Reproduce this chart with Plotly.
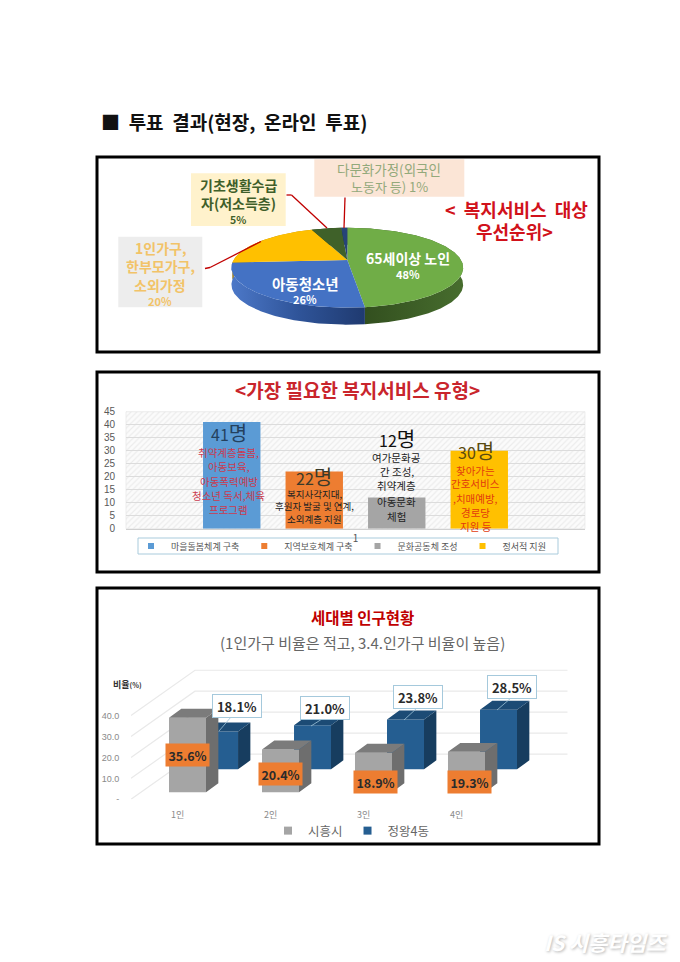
import numpy as np
import plotly.graph_objects as go

FONT = "Noto Sans CJK KR"
W, H = 680, 962

# ---------- data ----------
target_labels = ["65세이상 노인", "아동청소년", "1인가구, 한부모가구, 소외가정", "기초생활수급자(저소득층)", "다문화가정(외국인 노동자 등)"]
target_share = [48, 26, 20, 5, 1]

service_names = ["마을돌봄체계 구축", "지역보호체계 구축", "문화공동체 조성", "정서적 지원"]
service_votes = [41, 22, 12, 30]
service_category = ["1"]

household_sizes = ["1인", "2인", "3인", "4인"]
siheung_rate = [35.6, 20.4, 18.9, 19.3]
jeongwang_rate = [18.1, 21.0, 23.8, 28.5]
rate_ticks = [0, 10, 20, 30, 40]
rate_tick_text = ["-", "10.0", "20.0", "30.0", "40.0"]

# ---------- style ----------
PIE_TOP = ["#70ad47", "#4472c4", "#ffc000", "#3f6129", "#264478"]
PIE_WALL = ["#38561f", "#2c4f92", "#b88a08", "#2d451c", "#1b3157"]
SERVICE_COLORS = ["#5b9bd5", "#ed7d31", "#a5a5a5", "#ffc000"]

def px(x):
    return x / W

def py(y):
    return 1 - y / H

fig = go.Figure()
annotations, shapes = [], []

def txt(x, y, text, size=12, color="#222222", bold=False, anchor="center", **kw):
    font = dict(family=FONT, size=size, color=color)
    if "shadow" in kw:
        font["shadow"] = kw.pop("shadow")
    annotations.append(dict(
        xref="paper", yref="paper", x=px(x), y=py(y), showarrow=False,
        text=f"<b>{text}</b>" if bold else text, font=font,
        xanchor=anchor, yanchor="middle", **kw))

def rect(x0, y0, x1, y1, fill=None, line=None, width=0):
    shapes.append(dict(type="rect", xref="paper", yref="paper", layer="below",
                       x0=px(x0), x1=px(x1), y0=py(y0), y1=py(y1),
                       fillcolor=fill or "rgba(0,0,0,0)",
                       line=dict(color=line or "rgba(0,0,0,0)", width=width)))

def seg(points, color, width=1.0):
    for (a, b), (c, d) in zip(points[:-1], points[1:]):
        shapes.append(dict(type="line", xref="paper", yref="paper", layer="above",
                           x0=px(a), y0=py(b), x1=px(c), y1=py(d),
                           line=dict(color=color, width=width)))

def hidden_axes(n, dom_x, dom_y, rx, ry):
    common = dict(visible=False, fixedrange=True)
    fig.layout[f"xaxis{n}"] = dict(domain=[px(dom_x[0]), px(dom_x[1])], range=rx,
                                   anchor=f"y{n}", **common)
    fig.layout[f"yaxis{n}"] = dict(domain=[py(dom_y[1]), py(dom_y[0])], range=ry,
                                   anchor=f"x{n}", **common)

# ---------- page level: frames, heading ----------
for box in [(97, 157, 599, 352), (97, 372, 599, 572), (97, 588, 599, 844)]:
    rect(*box, line="#000000", width=3)

txt(99, 122, "■\u00a0\u00a0투표\u00a0\u00a0결과(현장,\u00a0\u00a0온라인\u00a0\u00a0투표)", 19, "#111111", True, "left")

# ---------- page subplot (hatched plot background for panel 2) ----------
fig.update_layout(xaxis=dict(domain=[0, 1], range=[0, W], visible=False, fixedrange=True, anchor="y"),
                  yaxis=dict(domain=[0, 1], range=[H, 0], visible=False, fixedrange=True, anchor="x"))
fig.add_trace(go.Scatter(x=[126, 585, 585, 126, 126], y=[411.7, 411.7, 528.7, 528.7, 411.7],
                         mode="lines", line=dict(width=0.6, color="#e2e2e2"), fill="toself",
                         fillpattern=dict(shape="/", fgcolor="#dedede", bgcolor="#fbfbfb", size=4, solidity=0.3),
                         hoverinfo="skip", showlegend=False, xaxis="x", yaxis="y"))

# ---------- panel 1: tilted pie ----------
PX0, PY0, UX, UY, TILT, DEPTH = 347.3, 260.0, 113.7, 38.5, 0.192, 17 / 38.5
hidden_axes(2, (PX0 - 1.3 * UX, PX0 + 1.3 * UX), (PY0 - 1.5 * UY, PY0 + 2 * UY), [-1.3, 1.3], [-2, 1.5])

def arc(t0, t1):
    t = np.radians(np.linspace(t0, t1, max(3, int(abs(t1 - t0)) + 2)))
    d = 1 + TILT * np.cos(t)
    return np.sin(t) / d, np.cos(t) / d

edges = np.cumsum([0] + target_share) * 360.0 / sum(target_share)
for i in range(len(target_share)):
    ax, ay = arc(edges[i], edges[i + 1])
    kw = {}
    if i == 0:
        kw = dict(fillgradient=dict(type="horizontal", colorscale=[[0, "#2f4a1c"], [1, "#476d2e"]]))
    elif i == 1:
        kw = dict(fillgradient=dict(type="horizontal", colorscale=[[0, "#4c78c8"], [0.5, "#2f5499"], [1, "#1f3a70"]]))
    fig.add_trace(go.Scatter(x=np.r_[ax, ax[::-1], ax[0]], y=np.r_[ay, ay[::-1] - DEPTH, ay[0]],
                             mode="lines", line=dict(width=0), fill="toself", fillcolor=PIE_WALL[i],
                             hoverinfo="skip", showlegend=False, xaxis="x2", yaxis="y2", **kw))
for i in range(len(target_share)):
    ax, ay = arc(edges[i], edges[i + 1])
    fig.add_trace(go.Scatter(x=np.r_[0, ax, 0], y=np.r_[0, ay, 0], mode="lines", line=dict(width=0),
                             fill="toself", fillcolor=PIE_TOP[i], name=target_labels[i],
                             text=f"{target_share[i]}%", hoverinfo="name+text", showlegend=False,
                             xaxis="x2", yaxis="y2"))

rect(191, 173.3, 285.7, 226, fill="#fff2cc")
rect(314.3, 159.3, 464.3, 196.7, fill="#fbe5d6")
rect(118.3, 236.7, 202.3, 307.3, fill="#ededed")
rect(138, 538, 558, 554, fill="#ffffff", line="#a9cbdc", width=1)
RED = "#c00000"
seg([(205, 268.5), (210, 267.5), (261, 241.5)], RED, 1.3)
seg([(286.5, 195), (291.5, 195), (327, 228)], RED, 1.3)
seg([(345, 197.5), (344, 228)], RED, 1.3)

for y, t, b in [(185, "기초생활수급", True), (203.3, "자(저소득층)", True)]:
    txt(238.3, y, t, 14, "#3f5f2a", b)
txt(238.3, 219, f"{target_share[3]}%", 10.5, "#3f5f2a", True)
txt(389.3, 169.5, "다문화가정(외국인", 13.5, "#93a97b")
txt(389.3, 186.5, f"노동자 등) {target_share[4]}%", 13, "#93a97b")
for y, t in [(248, "1인가구,"), (265.5, "한부모가구,"), (285, "소외가정")]:
    txt(160.3, y, t, 14, "#f2c368", True)
txt(160.3, 300.5, f"{target_share[2]}%", 11, "#f2c368", True)
txt(407.5, 258.5, target_labels[0], 14, "#ffffff", True)
txt(407.5, 273.5, f"{target_share[0]}%", 11, "#ffffff", True)
txt(305, 283.5, target_labels[1], 14.5, "#ffffff", True)
txt(305, 299, f"{target_share[1]}%", 11, "#ffffff", True)
txt(516, 209, "<\u00a0\u00a0복지서비스\u00a0\u00a0대상", 18, "#d1121b", True)
txt(514, 231, "우선순위>", 18, "#d1121b", True)

# ---------- panel 2: grouped bars ----------
fig.layout["xaxis3"] = dict(domain=[px(126), px(585)], anchor="y3", type="category", fixedrange=True,
                            showgrid=False, showline=True, linecolor="#d0d0d0", ticks="",
                            tickfont=dict(family=FONT, size=10, color="#555555"))
fig.layout["yaxis3"] = dict(domain=[py(528.7), py(411.7)], anchor="x3", range=[0, 45], dtick=5, fixedrange=True,
                            showgrid=True, gridcolor="#dcdcdc", gridwidth=1, zeroline=False, showline=False,
                            ticks="outside", ticklen=8, tickcolor="rgba(0,0,0,0)",
                            tickfont=dict(family="Liberation Sans", size=10, color="#595959"))
for name, v, c in zip(service_names, service_votes, SERVICE_COLORS):
    fig.add_trace(go.Bar(x=service_category, y=[v], name=name, marker=dict(color=c, line=dict(width=0)),
                         xaxis="x3", yaxis="y3", legendgroup=name, showlegend=False))
    fig.add_trace(go.Scatter(x=[None], y=[None], mode="markers", name=name, legend="legend2", legendgroup=name,
                             marker=dict(symbol="square", size=6, color=c), xaxis="x3", yaxis="y3"))

txt(357, 389, "&lt;가장\u00a0필요한\u00a0복지서비스\u00a0유형&gt;", 19, "#c9252c", True)

def count_label(x, y, n, color):
    txt(x, y, f"{n}<span style='font-size:20px'>명</span>", 16, color)

count_label(228.5, 432, service_votes[0], "#24415e")
count_label(313.5, 476, service_votes[1], "#3a3a2a")
count_label(396.5, 438.5, service_votes[2], "#111111")
count_label(476, 450.5, service_votes[3], "#5a4a10")

for y, t in zip([452.5, 466.5, 481, 495.5, 509.5], ["취약계층돌봄,", "아동보육,", "아동폭력예방", "청소년 독서,체육", "프로그램"]):
    txt(228.5, y, t, 10.5, "#c93a50")
for y, t in zip([493.5, 506, 519], ["복지사각지대,", "후원자 발굴 및 연계,", "소외계층 지원"]):
    txt(314, y, t, 9.5, "#222222")
for y, t in zip([457, 471, 485, 501, 516.5], ["여가문화공", "간 조성,", "취약계층", "아동문화", "체험"]):
    txt(396.5, y, t, 10.5, "#222222")
for y, t in zip([470, 483.5, 498.5, 512.5, 526.5], ["찾아가는", "간호서비스", ",치매예방,", "경로당", "지원 등"]):
    txt(476, y, t, 10.5, "#e23b0e")

# ---------- panel 3: oblique 3D bars ----------
AX_X = (131.0, 567.7)
AX_Y = (669.0, 799.3)
RX = [-0.502, 4.194]
RY = [0, 62.2]
for n in (5, 6):
    hidden_axes(n, AX_X, AX_Y, RX, RY)
fig.layout["xaxis4"] = dict(domain=[px(AX_X[0]), px(AX_X[1])], range=RX, anchor="y4", fixedrange=True,
                            tickmode="array", tickvals=list(range(len(household_sizes))), ticktext=household_sizes,
                            showgrid=False, zeroline=False, showline=False, ticks="outside", ticklen=7,
                            tickcolor="rgba(0,0,0,0)", tickfont=dict(family=FONT, size=9, color="#8a8a8a"))
fig.layout["yaxis4"] = dict(domain=[py(AX_Y[1]), py(AX_Y[0])], range=RY, anchor="x4", fixedrange=True,
                            tickmode="array", tickvals=rate_ticks, ticktext=rate_tick_text, showgrid=False,
                            zeroline=False, showline=False, ticks="outside", ticklen=9,
                            tickcolor="rgba(0,0,0,0)", tickfont=dict(family="Liberation Sans", size=9, color="#8a8a8a"))

WALL_X0, WALL_X1, WALL_X2, WALL_RISE = -0.502, 0.186, 4.194, 21.6
wx, wy = [], []
for t in rate_ticks:
    wx += [WALL_X0, WALL_X1, WALL_X2, None]
    wy += [t, t + WALL_RISE, t + WALL_RISE, None]
fig.add_trace(go.Scatter(x=wx, y=wy, mode="lines", line=dict(color="#e9e9e9", width=1.2),
                         hoverinfo="skip", showlegend=False, xaxis="x4", yaxis="y4"))

BAR_W, DX, DY = 0.398, 0.1326, 4.29

def bars3d(vals, offset, base, front, side, top, name, n):
    xc = np.arange(len(vals)) + offset
    fig.add_trace(go.Bar(x=xc, y=vals, base=base, width=BAR_W, name=name,
                         marker=dict(color=front, line=dict(width=0)), legendgroup=name, showlegend=False,
                         xaxis=f"x{n}", yaxis=f"y{n}"))
    fig.add_trace(go.Scatter(x=[None], y=[None], mode="markers", name=name, legend="legend3", legendgroup=name,
                             marker=dict(symbol="square", size=8, color=front), xaxis=f"x{n}", yaxis=f"y{n}"))
    sx, sy, tx, ty = [], [], [], []
    for c, v in zip(xc, vals):
        l, r, b, h = c - BAR_W / 2, c + BAR_W / 2, base, base + v
        sx += [r, r + DX, r + DX, r, r, None]
        sy += [b, b + DY, h + DY, h, b, None]
        tx += [l, l + DX, r + DX, r, l, None]
        ty += [h, h + DY, h + DY, h, h, None]
    for X, Y, col in ((sx, sy, side), (tx, ty, top)):
        fig.add_trace(go.Scatter(x=X, y=Y, mode="lines", line=dict(width=0), fill="toself", fillcolor=col,
                                 hoverinfo="skip", showlegend=False, xaxis=f"x{n}", yaxis=f"y{n}"))

bars3d(jeongwang_rate, 0.45, 14.3, "#255e91", "#173d5f", "#1c4b75", "정왕4동", 5)
bars3d(siheung_rate, 0.1057, 3.34, "#a5a5a5", "#6e6e6e", "#7b7b7b", "시흥시", 6)

txt(362.5, 617, "세대별 인구현황", 15.5, "#c00000", True)
txt(362, 642, "(1인가구 비율은 적고, 3.4.인가구 비율이 높음)", 15, "#666666")
txt(127.5, 684.5, "비율<span style='font-size:7px'>(%)</span>", 9, "#333333", True)

for (x, y), v in zip([(187.5, 754.5), (280.5, 773.5), (375, 782), (469.5, 782)], siheung_rate):
    txt(x, y, f"{v:.1f}%", 12.5, "#2b2b2b", True, bgcolor="#ed7d31", width=41, height=20)
for (x, y), v, leader in zip([(236.5, 705.5), (325, 707.5), (418, 696.5), (511.5, 686.5)], jeongwang_rate,
                             [((231, 717), (219, 731)), ((322, 719), (311, 726)), ((417, 708), (404, 720)), ((511, 698), (497, 710))]):
    seg(list(leader), "#9dc3d8", 0.8)
    txt(x, y, f"{v:.1f}%", 13, "#2b2b2b", True, bgcolor="#ffffff", bordercolor="#a5c9dc", borderwidth=1,
        width=46, height=20)

# ---------- watermark ----------
txt(605, 942, "<i>IS 시흥타임즈</i>", 21, "#ffffff", True, shadow="1px 1px 3px #b5b5b5")

fig.update_layout(
    width=W, height=H, margin=dict(l=0, r=0, t=0, b=0, autoexpand=False), paper_bgcolor="#ffffff",
    plot_bgcolor="rgba(0,0,0,0)", barmode="group", bargap=0.281, bargroupgap=0.304,
    annotations=annotations, shapes=shapes, showlegend=True, hovermode="closest",
    legend2=dict(orientation="h", x=px(131), xanchor="left", y=py(546), yanchor="middle",
                 bgcolor="rgba(0,0,0,0)", font=dict(family=FONT, size=9, color="#555555")),
    legend3=dict(orientation="h", x=px(268), xanchor="left", y=py(831), yanchor="middle",
                 traceorder="reversed", bgcolor="rgba(0,0,0,0)",
                 font=dict(family=FONT, size=12.5, color="#666666")),
)
fig.write_html("out.html", post_script="document.body.style.margin='0';", config={"displayModeBar": False})
